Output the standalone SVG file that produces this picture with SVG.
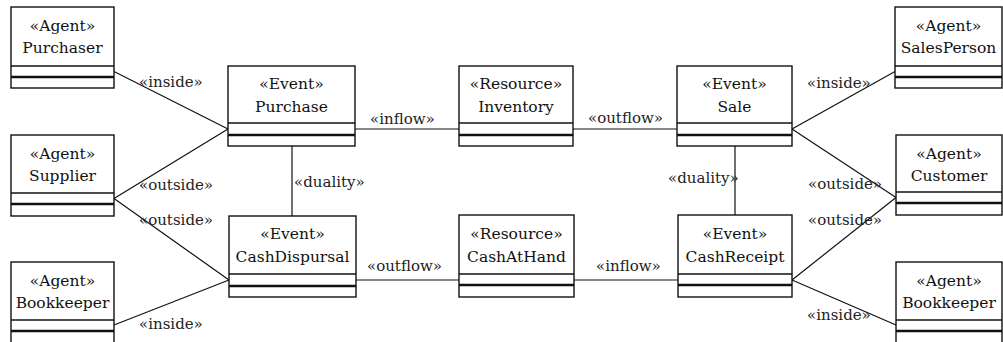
<svg xmlns="http://www.w3.org/2000/svg" width="1003" height="342" viewBox="0 0 1003 342">
<style>
.box{fill:#fff;stroke:#111;stroke-width:1.4}
.d1{stroke:#111;stroke-width:1.3}
.d2{stroke:#111;stroke-width:2.4}
text{font-family:'DejaVu Serif',serif;font-size:15px}
.t{fill:#111;text-anchor:middle;font-size:15.5px}
.c{stroke:#111;stroke-width:1.2;fill:none}
.l{fill:#222}
</style>
<rect width="1003" height="342" fill="#fff"/>
<g id="connectors">
<line class="c" x1="114" y1="71.5" x2="228" y2="129"/>
<line class="c" x1="114" y1="198.5" x2="228" y2="129"/>
<line class="c" x1="114" y1="198.5" x2="229" y2="280"/>
<line class="c" x1="114" y1="325" x2="229" y2="280"/>
<line class="c" x1="355" y1="129" x2="459" y2="129"/>
<line class="c" x1="573" y1="129" x2="677" y2="129"/>
<line class="c" x1="292" y1="146" x2="292" y2="216"/>
<line class="c" x1="735" y1="146" x2="735" y2="215"/>
<line class="c" x1="792" y1="129" x2="895" y2="71.5"/>
<line class="c" x1="792" y1="129" x2="896" y2="197.5"/>
<line class="c" x1="792" y1="280" x2="896" y2="197.5"/>
<line class="c" x1="792" y1="280" x2="896" y2="325"/>
<line class="c" x1="356" y1="280" x2="459" y2="280"/>
<line class="c" x1="574" y1="280" x2="678" y2="280"/>
<text class="l" x="139" y="87">«inside»</text>
<text class="l" x="139" y="190">«outside»</text>
<text class="l" x="139" y="225">«outside»</text>
<text class="l" x="139" y="329">«inside»</text>
<text class="l" x="370" y="124">«inflow»</text>
<text class="l" x="588" y="123">«outflow»</text>
<text class="l" x="294" y="187">«duality»</text>
<text class="l" x="668" y="183">«duality»</text>
<text class="l" x="807" y="88">«inside»</text>
<text class="l" x="808" y="189">«outside»</text>
<text class="l" x="808" y="225">«outside»</text>
<text class="l" x="807" y="320">«inside»</text>
<text class="l" x="367" y="271">«outflow»</text>
<text class="l" x="596" y="271">«inflow»</text>
</g>
<g id="purchaser">
<rect class="box" x="11" y="7" width="103" height="81"/>
<line class="d1" x1="11" y1="66" x2="114" y2="66"/><line class="d2" x1="11" y1="77" x2="114" y2="77"/>
<text class="t" x="62.5" y="31">«Agent»</text><text class="t" x="62.5" y="53">Purchaser</text>
</g>
<g id="supplier">
<rect class="box" x="11" y="135" width="103" height="81"/>
<line class="d1" x1="11" y1="193" x2="114" y2="193"/><line class="d2" x1="11" y1="204" x2="114" y2="204"/>
<text class="t" x="62.5" y="159">«Agent»</text><text class="t" x="62.5" y="181">Supplier</text>
</g>
<g id="bookkeeper-left">
<rect class="box" x="11" y="262" width="103" height="90"/>
<line class="d1" x1="11" y1="320" x2="114" y2="320"/><line class="d2" x1="11" y1="331" x2="114" y2="331"/>
<text class="t" x="62.5" y="286">«Agent»</text><text class="t" x="62.5" y="308">Bookkeeper</text>
</g>
<g id="purchase">
<rect class="box" x="228" y="66" width="127" height="80"/>
<line class="d1" x1="228" y1="123" x2="355" y2="123"/><line class="d2" x1="228" y1="135" x2="355" y2="135"/>
<text class="t" x="291.5" y="89">«Event»</text><text class="t" x="291.5" y="112">Purchase</text>
</g>
<g id="inventory">
<rect class="box" x="459" y="66" width="114" height="80"/>
<line class="d1" x1="459" y1="123" x2="573" y2="123"/><line class="d2" x1="459" y1="135" x2="573" y2="135"/>
<text class="t" x="516" y="89">«Resource»</text><text class="t" x="516" y="112">Inventory</text>
</g>
<g id="sale">
<rect class="box" x="677" y="66" width="115" height="80"/>
<line class="d1" x1="677" y1="123" x2="792" y2="123"/><line class="d2" x1="677" y1="135" x2="792" y2="135"/>
<text class="t" x="734.5" y="89">«Event»</text><text class="t" x="734.5" y="112">Sale</text>
</g>
<g id="salesperson">
<rect class="box" x="895" y="7" width="107" height="81"/>
<line class="d1" x1="895" y1="66" x2="1002" y2="66"/><line class="d2" x1="895" y1="77" x2="1002" y2="77"/>
<text class="t" x="948.5" y="31">«Agent»</text><text class="t" x="948.5" y="53">SalesPerson</text>
</g>
<g id="customer">
<rect class="box" x="896" y="135" width="106" height="80"/>
<line class="d1" x1="896" y1="192" x2="1002" y2="192"/><line class="d2" x1="896" y1="203" x2="1002" y2="203"/>
<text class="t" x="949" y="159">«Agent»</text><text class="t" x="949" y="181">Customer</text>
</g>
<g id="cashdispursal">
<rect class="box" x="229" y="216" width="127" height="81"/>
<line class="d1" x1="229" y1="274" x2="356" y2="274"/><line class="d2" x1="229" y1="286" x2="356" y2="286"/>
<text class="t" x="292.5" y="239">«Event»</text><text class="t" x="292.5" y="262">CashDispursal</text>
</g>
<g id="cashathand">
<rect class="box" x="459" y="215" width="115" height="82"/>
<line class="d1" x1="459" y1="274" x2="574" y2="274"/><line class="d2" x1="459" y1="285" x2="574" y2="285"/>
<text class="t" x="516.5" y="239">«Resource»</text><text class="t" x="516.5" y="262">CashAtHand</text>
</g>
<g id="cashreceipt">
<rect class="box" x="678" y="215" width="114" height="82"/>
<line class="d1" x1="678" y1="274" x2="792" y2="274"/><line class="d2" x1="678" y1="285" x2="792" y2="285"/>
<text class="t" x="735" y="239">«Event»</text><text class="t" x="735" y="262">CashReceipt</text>
</g>
<g id="bookkeeper-right">
<rect class="box" x="896" y="262" width="106" height="90"/>
<line class="d1" x1="896" y1="320" x2="1002" y2="320"/><line class="d2" x1="896" y1="331" x2="1002" y2="331"/>
<text class="t" x="949" y="286">«Agent»</text><text class="t" x="949" y="308">Bookkeeper</text>
</g>
</svg>
